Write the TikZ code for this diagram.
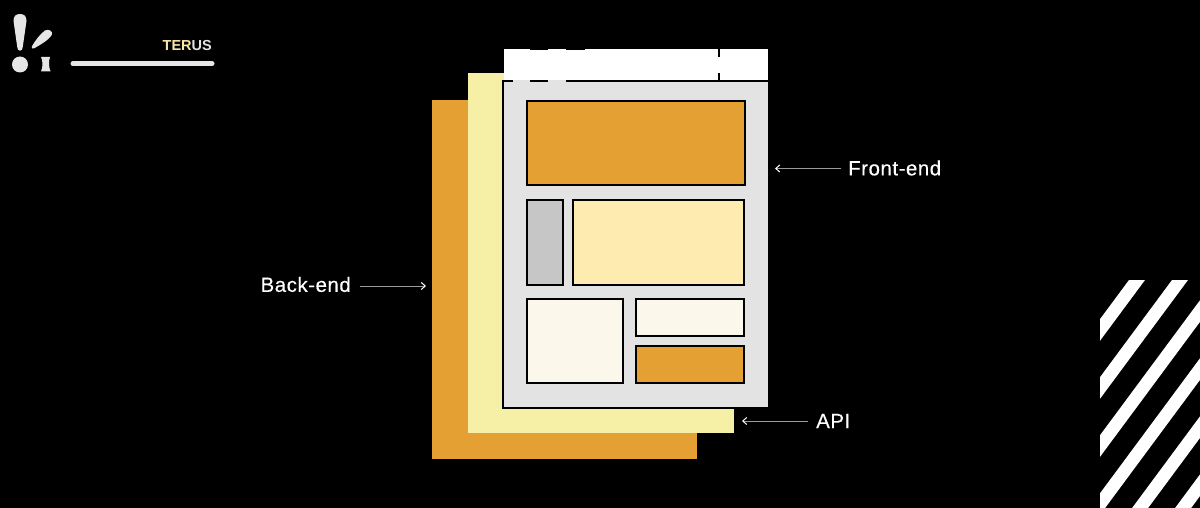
\documentclass[tikz,border=0pt]{standalone}
\usepackage{fontspec}
\setmainfont{Liberation Sans}
\newfontfamily\lblfont[LetterSpace=2.5,FakeBold=0.3]{Liberation Sans}
\usetikzlibrary{arrows.meta}
\definecolor{cOrange}{HTML}{E5A034}
\definecolor{cYellow}{HTML}{F6EFA6}
\definecolor{cPage}{HTML}{E3E3E3}
\definecolor{cLight}{HTML}{FEEBB0}
\definecolor{cCream}{HTML}{FBF7EB}
\definecolor{cGrey}{HTML}{C6C6C6}
\definecolor{cLogo}{HTML}{E6E6E6}
\definecolor{cTitle}{HTML}{FBE6A6}
\definecolor{cArrow}{HTML}{9A9A9A}
\tikzset{
  box/.style={draw=black,line width=2pt,sharp corners},
  lbl/.style={text=white,inner sep=0pt,font=\lblfont\fontsize{20.5}{24}\selectfont},
  conn/.style={draw=cArrow,line width=1pt,-{Straight Barb[length=4pt,width=7pt,color=white]}},
  logo/.style={fill=cLogo,draw=none},
}
\begin{document}
\begin{tikzpicture}[x=1pt,y=-1pt]
\useasboundingbox (0,0) rectangle (1200,508);
\fill[black] (0,0) rectangle (1200,508);
% logo
\fill[logo] (13.5,21) .. controls (13.5,16) and (16,14) .. (20,14) .. controls (24,14) and (26.5,16) .. (26.5,21)
  -- (22.6,48) .. controls (22.2,51.5) and (17.8,51.5) .. (17.4,48) -- cycle;
\fill[logo] (20,64.5) circle (8);
\fill[logo] (31.8,46.5) .. controls (35,41) and (40,34) .. (45,30.5) .. controls (48,28.5) and (53,31) .. (52,34.5)
  .. controls (49,40) and (40,45) .. (33.8,48.5) .. controls (32.5,49.2) and (31.2,48) .. (31.8,46.5) -- cycle;
\fill[logo] (41,57) -- (50,57) .. controls (48.6,61) and (48.6,67) .. (50.6,71.5) -- (41,71.5) .. controls (43,67) and (43,61) .. (41,57) -- cycle;
\draw[cLogo,line width=5pt,line cap=round] (73,63.7) -- (212,63.7);
\node[anchor=east,inner sep=0pt,font=\fontsize{14.5}{16}\selectfont\bfseries] (title) at (212,45.5) {\textcolor{cTitle}{TER}\textcolor{cPage}{US}};
% stacked pages
\fill[cOrange] (432,100) rectangle (697,459.3);
\fill[cYellow] (468,73) rectangle (733.7,432.7);
\node[box,fill=cPage,outer sep=0pt,minimum width=265.7pt,minimum height=327pt,inner sep=0pt,anchor=north west] (page) at (503,81) {};
% header bar
\fill[white] (504,48.7) rectangle (767.7,80);
\fill[black] (530,48) rectangle (548,49.7);
\fill[black] (566,48) rectangle (585,49.7);
\draw[black,line width=2pt] (503,81) -- (513,81) (530,81) -- (548,81) (566,81) -- (768,81);
\draw[black,line width=1.6pt] (719,48) -- (719,57) (719,73) -- (719,81);
\fill[cPage] (513,80.4) rectangle (530,82);
\fill[cPage] (548,80.4) rectangle (566,82);
% inner boxes
\draw[box,fill=cOrange] (526.7,101) rectangle (745,185);
\draw[box,fill=cGrey] (526.7,200.3) rectangle (563.3,284.7);
\draw[box,fill=cLight] (573,200.3) rectangle (744.3,284.7);
\draw[box,fill=cCream] (526.7,298.7) rectangle (623.3,383);
\draw[box,fill=cCream] (636,298.7) rectangle (744.3,336);
\draw[box,fill=cOrange] (636,346) rectangle (744.3,383);
% stripes
\begin{scope}
\clip (1100,280) rectangle (1200,508);
\foreach \k in {0,...,5}{
  \fill[white] ({1129+43*\k},280) -- ({1145+43*\k},280) -- ({1145+43*\k-172},{280+232.2}) -- ({1129+43*\k-172},{280+232.2}) -- cycle;
}
\end{scope}
% labels and connectors
\node[lbl,anchor=west] (fe) at (848,168) {Front-end};
\node[lbl,anchor=west] (api) at (816,421) {API};
\node[lbl,anchor=east] (be) at (351,284.5) {Back-end};
\coordinate (feT) at (775,168.5);
\coordinate (feS) at (841,168.5);
\coordinate (apiT) at (742,421);
\coordinate (apiS) at (808,421);
\coordinate (beS) at (360,286);
\coordinate (beT) at (426,286);
\draw[conn] (feS) -- (feT);
\draw[conn] (apiS) -- (apiT);
\draw[conn] (beS) -- (beT);
\end{tikzpicture}
\end{document}
